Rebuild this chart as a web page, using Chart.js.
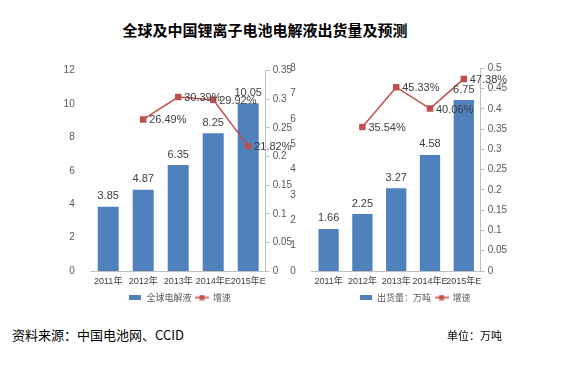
<!DOCTYPE html>
<html>
<head>
<meta charset="utf-8">
<script src="https://cdn.jsdelivr.net/npm/chart.js@4"></script>
<style>
  html, body { margin:0; padding:0; background:#fff; }
  body { width:572px; height:368px; position:relative; overflow:hidden; font-family:"Noto Sans CJK SC", sans-serif; }
  .title { position:absolute; left:0; width:530px; top:20px; text-align:center; font-size:15px; font-weight:bold; color:#000; line-height:20px; }
  .src { position:absolute; left:12px; top:326px; font-size:13px; color:#000; line-height:18px; }
  .unit { position:absolute; left:447px; top:327px; font-size:11px; color:#000; line-height:16px; }
  canvas { position:absolute; }
</style>
</head>
<body>
<div class="title">全球及中国锂离子电池电解液出货量及预测</div>
<canvas id="c1" width="240" height="265" style="left:60px;top:50px;width:240px;height:265px"></canvas>
<canvas id="c2" width="250" height="265" style="left:290px;top:50px;width:250px;height:265px"></canvas>
<div class="src">资料来源：中国电池网、CCID</div>
<div class="unit">单位：万吨</div>
<script>
const years = ['2011年', '2012年', '2013年', '2014年E', '2015年E'];
const globalVolume = [3.85, 4.87, 6.35, 8.25, 10.05];
const globalGrowth = [null, 0.2649, 0.3039, 0.2992, 0.2182];
const chinaVolume = [1.66, 2.25, 3.27, 4.58, 6.75];
const chinaGrowth = [null, 0.3554, 0.4533, 0.4006, 0.4738];
const globalBarLabel = '全球电解液';
const chinaBarLabel = '出货量：万吨';
const growthLabel = '增速';

const BLUE = '#4F81BD';
const RED = '#C0504D';
const AXIS = '#BFBFBF';
const TXT = '#595959';

function barIcon() {
  const c = document.createElement('canvas');
  c.width = 12; c.height = 5;
  const g = c.getContext('2d');
  g.fillStyle = BLUE; g.fillRect(0, 0, 12, 5);
  return c;
}
function lineIcon() {
  const c = document.createElement('canvas');
  c.width = 14; c.height = 6;
  const g = c.getContext('2d');
  g.strokeStyle = RED; g.lineWidth = 1.5;
  g.beginPath(); g.moveTo(0, 3); g.lineTo(14, 3); g.stroke();
  g.fillStyle = RED; g.fillRect(4.5, 0.5, 5, 5);
  return c;
}

const valueLabels = {
  id: 'valueLabels',
  afterDatasetsDraw(chart) {
    const ctx = chart.ctx;
    ctx.save();
    ctx.font = '11px "Liberation Sans", Arial, sans-serif';
    ctx.fillStyle = '#404040';
    chart.data.datasets.forEach((ds, i) => {
      const meta = chart.getDatasetMeta(i);
      meta.data.forEach((el, j) => {
        const v = ds.data[j];
        if (v === null || v === undefined) return;
        if (ds.type === 'line') {
          ctx.textAlign = 'left'; ctx.textBaseline = 'middle';
          ctx.fillText((v * 100).toFixed(2) + '%', el.x + 6, el.y + 1);
        } else {
          ctx.textAlign = 'center'; ctx.textBaseline = 'bottom';
          ctx.fillText(v.toFixed(2), el.x, el.y - 5);
        }
      });
    });
    ctx.restore();
  }
};

function makeChart(id, bars, growth, barLabel, yMax, yStep, y1Max, leftW, rightW, padTop) {
  const tickFont = { family: '"Liberation Sans", Arial, sans-serif', size: 10 };
  return new Chart(document.getElementById(id), {
    data: {
      labels: years,
      datasets: [
        { type: 'line', label: growthLabel, data: growth, yAxisID: 'y1', order: 0,
          borderColor: RED, backgroundColor: RED, borderWidth: 1.5,
          pointStyle: 'rect', pointRadius: 3.5, pointBackgroundColor: RED, pointBorderColor: RED,
          tension: 0, spanGaps: false },
        { type: 'bar', label: barLabel, data: bars, yAxisID: 'y', order: 1,
          backgroundColor: BLUE, borderWidth: 0, categoryPercentage: 0.6, barPercentage: 1 }
      ]
    },
    options: {
      responsive: false, animation: false, devicePixelRatio: 1,
      layout: { padding: { top: padTop, left: 0, right: 0, bottom: 3 } },
      scales: {
        x: {
          grid: { display: false, drawTicks: false },
          border: { display: true, color: AXIS, width: 1 },
          ticks: { font: { family: '"Liberation Sans Narrow", "Liberation Sans", "Noto Sans CJK SC", sans-serif', size: 9 }, color: '#404040', padding: 5, maxRotation: 0, autoSkip: false },
          afterFit(s) { s.height = 18; }
        },
        y: {
          position: 'left', min: 0, max: yMax,
          grid: { display: false },
          border: { display: false },
          ticks: { stepSize: yStep, font: tickFont, color: TXT, padding: 8 },
          afterFit(s) { s.width = leftW; }
        },
        y1: {
          position: 'right', min: 0, max: y1Max,
          grid: { drawOnChartArea: false, drawTicks: true, tickLength: 4, color: AXIS },
          border: { display: true, color: AXIS },
          ticks: { stepSize: 0.05, font: tickFont, color: TXT, padding: 3,
            callback: v => String(Math.round(v * 100) / 100) },
          afterFit(s) { s.width = rightW; }
        }
      },
      plugins: {
        title: { display: false },
        tooltip: { enabled: false },
        legend: {
          position: 'bottom',
          reverse: true,
          labels: {
            usePointStyle: true, pointStyleWidth: 13,
            font: { family: '"Noto Sans CJK SC", sans-serif', size: 9 },
            color: TXT, padding: 4, boxHeight: 6,
            generateLabels(chart) {
              return chart.data.datasets.map((ds, i) => ({
                text: ds.label, datasetIndex: i,
                pointStyle: ds.type === 'bar' ? barIcon() : lineIcon(),
                fillStyle: ds.backgroundColor, strokeStyle: ds.backgroundColor, lineWidth: 0,
                fontColor: TXT, hidden: false
              }));
            }
          }
        }
      }
    },
    plugins: [valueLabels]
  });
}

makeChart('c1', globalVolume, globalGrowth, globalBarLabel, 12, 2, 0.35, 30.7, 34.3, 20.7);
makeChart('c2', chinaVolume, chinaGrowth, chinaBarLabel, 8, 1, 0.5, 21.7, 59.3, 18.3);
</script>
</body>
</html>
